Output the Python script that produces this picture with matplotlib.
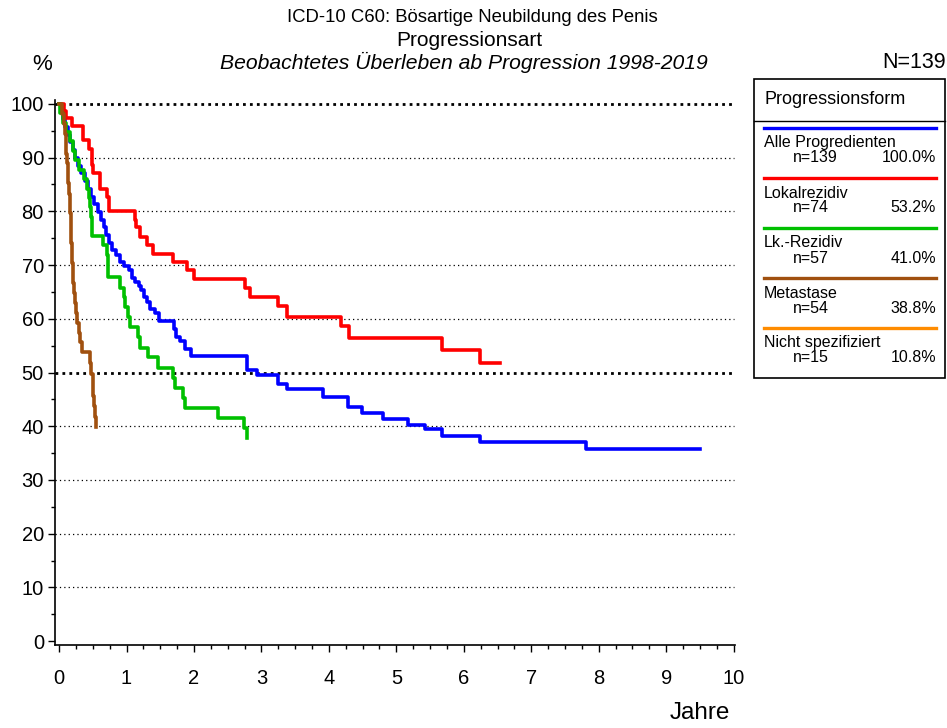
import numpy as np
import matplotlib.pyplot as plt
from matplotlib.patches import Rectangle
from matplotlib.lines import Line2D
from matplotlib.ticker import MultipleLocator

plt.rcParams['font.family'] = ['Liberation Sans', 'DejaVu Sans']

# survival curves (years, % surviving)
alle_t = [0, 0.03, 0.06, 0.09, 0.13, 0.16, 0.2, 0.24, 0.28, 0.33, 0.38, 0.43, 0.47, 0.52,
          0.57, 0.62, 0.66, 0.7, 0.74, 0.79, 0.85, 0.9, 0.97, 1.03, 1.08, 1.13, 1.18, 1.22,
          1.26, 1.3, 1.35, 1.42, 1.48, 1.7, 1.74, 1.8, 1.86, 1.95, 2.78, 2.93, 3.24, 3.38,
          3.92, 4.29, 4.49, 4.8, 5.17, 5.42, 5.67, 6.24, 7.81, 9.5]
alle_s = [100, 98.6, 97.1, 95.7, 94.2, 92.8, 91.4, 89.9, 88.5, 87.1, 85.6, 84.2, 82.7, 81.3,
          79.9, 78.4, 77.0, 75.5, 74.1, 72.7, 71.9, 70.5, 69.8, 69.0, 67.6, 66.9, 66.1, 65.4,
          64.0, 63.2, 61.8, 61.0, 59.6, 58.1, 56.6, 55.8, 54.3, 53.0, 50.5, 49.6, 47.8, 47.0,
          45.4, 43.5, 42.4, 41.4, 40.3, 39.4, 38.2, 37.1, 35.8, 35.8]

lokal_t = [0, 0.07, 0.1, 0.19, 0.36, 0.45, 0.49, 0.51, 0.6, 0.71, 0.74, 1.12, 1.14, 1.2,
           1.3, 1.39, 1.69, 1.9, 2.0, 2.76, 2.83, 3.24, 3.38, 4.18, 4.3, 5.67, 6.24, 6.53]
lokal_s = [100, 98.6, 97.3, 95.9, 93.2, 91.5, 88.6, 87.2, 84.2, 82.7, 80.0, 78.4, 77.0, 75.3,
           73.8, 72.1, 70.6, 69.0, 67.4, 65.8, 64.0, 62.3, 60.4, 58.6, 56.5, 54.1, 51.7, 51.7]

lk_t = [0, 0.02, 0.06, 0.1, 0.16, 0.2, 0.24, 0.3, 0.37, 0.41, 0.44, 0.46, 0.47, 0.49, 0.65,
        0.71, 0.72, 0.73, 0.9, 0.96, 0.98, 1.02, 1.05, 1.17, 1.2, 1.32, 1.47, 1.69, 1.72,
        1.84, 1.86, 2.36, 2.74, 2.78]
lk_s = [100, 98.2, 96.5, 94.7, 93.0, 91.2, 89.5, 87.7, 86.0, 84.2, 82.5, 80.7, 78.9, 75.4, 73.7,
        71.9, 70.2, 67.7, 65.8, 64.0, 62.2, 60.4, 58.4, 56.6, 54.6, 52.8, 50.9, 48.9, 47.2,
        45.3, 43.4, 41.5, 39.7, 37.8]

meta_t = [0, 0.05, 0.07, 0.09, 0.1, 0.11, 0.12, 0.13, 0.14, 0.15, 0.155, 0.16, 0.17, 0.175,
          0.18, 0.185, 0.19, 0.2, 0.21, 0.22, 0.23, 0.25, 0.27, 0.29, 0.31, 0.34, 0.46, 0.48,
          0.5, 0.51, 0.52, 0.54, 0.55]
meta_s = [100, 98.1, 96.3, 94.4, 92.6, 90.7, 88.9, 87.0, 85.2, 83.3, 81.5, 79.6, 77.8, 75.9,
          74.1, 72.2, 70.4, 68.5, 66.7, 64.8, 63.0, 61.1, 59.2, 57.4, 55.6, 53.9, 51.8, 49.8,
          47.7, 45.7, 43.7, 41.8, 39.8]

labels = ["Alle Progredienten", "Lokalrezidiv", "Lk.-Rezidiv", "Metastase", "Nicht spezifiziert"]
counts = [139, 74, 57, 54, 15]
shares = [100.0, 53.2, 41.0, 38.8, 10.8]
colors = ["#0000FF", "#FF0000", "#00C000", "#A0500F", "#FF8C00"]
curves = [(alle_t, alle_s), (lokal_t, lokal_s), (lk_t, lk_s), (meta_t, meta_s)]

W, H = 947, 728
fig = plt.figure(figsize=(W / 100, H / 100), dpi=100)

def fx(px):
  return px / W

def fy(py):
  return 1 - py / H

ax = fig.add_axes([fx(55), fy(645), fx(735) - fx(55), fy(100) - fy(645)])
ax.set_xlim(-0.06, 10.02)
ax.set_ylim(-0.7, 100.7)

# grid
for g in range(10, 100, 10):
  if g == 50:
    continue
  ax.hlines(g, -0.06, 10, colors='black', linestyles=(0, (1, 2.5)), linewidth=0.9, zorder=1)
for g in [50, 100]:
  ax.hlines(g, -0.06, 10, colors='black', linestyles=(0, (1, 1.5)), linewidth=2, zorder=1)

for (t, s), c in zip(curves, colors):
  ax.step(t, s, where='post', color=c, linewidth=2.6, zorder=3)

for sp in ['top', 'right']:
  ax.spines[sp].set_visible(False)
ax.spines['left'].set_linewidth(1.2)
ax.spines['bottom'].set_linewidth(1.2)

ax.xaxis.set_major_locator(MultipleLocator(1))
ax.xaxis.set_minor_locator(MultipleLocator(0.25))
ax.yaxis.set_major_locator(MultipleLocator(10))
ax.yaxis.set_minor_locator(MultipleLocator(5))
ax.tick_params(which='major', length=5, width=1, labelsize=14.5, pad=12)
ax.tick_params(which='minor', length=3, width=1)
ax.tick_params(axis='y', pad=3)

fig.text(fx(700), fy(713), "Jahre", fontsize=17.5, ha='center', va='center')
fig.text(fx(42), fy(65), "%", fontsize=16, ha='center', va='center')
fig.text(fx(914), fy(62), "N=139", fontsize=15.5, ha='center', va='center')

fig.text(fx(472), fy(18), "ICD-10 C60: Bösartige Neubildung des Penis", fontsize=13.3,
         ha='center', va='center')
fig.text(fx(469), fy(41), "Progressionsart", fontsize=15, ha='center', va='center')
fig.text(fx(464), fy(62), "Beobachtetes Überleben ab Progression 1998-2019", fontsize=15.2,
         style='italic', ha='center', va='center')

# legend box
fig.patches.append(Rectangle((fx(754), fy(378)), fx(945) - fx(754), fy(79) - fy(378),
                             transform=fig.transFigure, fill=False, edgecolor='black', linewidth=1.2))
fig.lines.append(Line2D([fx(754), fx(945)], [fy(121), fy(121)], transform=fig.transFigure,
                        color='black', linewidth=1))
fig.text(fx(764), fy(99), "Progressionsform", fontsize=13, ha='left', va='center')
for i, (lab, n, p, c) in enumerate(zip(labels, counts, shares, colors)):
  y0 = 128 + 50 * i
  fig.lines.append(Line2D([fx(764), fx(936)], [fy(y0), fy(y0)], transform=fig.transFigure,
                          color=c, linewidth=2.4))
  fig.text(fx(764), fy(y0 + 15), lab, fontsize=11.5, ha='left', va='center')
  fig.text(fx(793), fy(y0 + 30), f"n={n}", fontsize=11.5, ha='left', va='center')
  fig.text(fx(936), fy(y0 + 30), f"{p:.1f}%", fontsize=11.5, ha='right', va='center')

fig.savefig("out.png", dpi=100)
